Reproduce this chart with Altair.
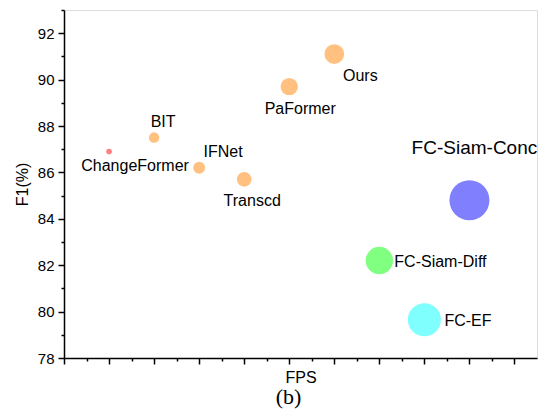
import altair as alt
import pandas as pd

names = ["ChangeFormer", "BIT", "IFNet", "Transcd", "PaFormer", "Ours",
         "FC-Siam-Diff", "FC-EF", "FC-Siam-Conc"]
fps = [1, 2, 3, 4, 5, 6, 7, 8, 9]
f1 = [86.9, 87.5, 86.2, 85.7, 89.7, 91.1, 82.2, 79.65, 84.8]
bubble = [32, 110, 140, 215, 300, 390, 750, 1100, 1600]
colors = ["#FF8080", "#FFC080", "#FFC080", "#FFC080", "#FFC080", "#FFC080",
          "#80FF80", "#80FFFF", "#8080FF"]

# label styles: name -> (dx, dy, align, fontSize)
label_style = {
    "ChangeFormer": (26, 14, "center", 16),
    "BIT": (9, -16, "center", 16),
    "IFNet": (24, -16, "center", 16),
    "Transcd": (8, 22, "center", 16),
    "PaFormer": (11, 22, "center", 16),
    "Ours": (26, 22, "center", 16),
    "FC-Siam-Diff": (15, 1, "left", 16),
    "FC-EF": (20, 1, "left", 16),
    "FC-Siam-Conc": (5, -52, "center", 19),
}

df = pd.DataFrame({"name": names, "fps": fps, "f1": f1, "size": bubble, "color": colors})

FONT = "Liberation Sans"
xscale = alt.Scale(domain=[0, 10.5], nice=False, zero=False)
yscale = alt.Scale(domain=[78, 93], nice=False, zero=False)

x_major = alt.Axis(orient="bottom", values=list(range(0, 11)), labels=False, tickSize=6,
                   grid=False, title="FPS", titleFont=FONT, titleFontSize=16,
                   titleFontWeight="normal", titleColor="black", titlePadding=5,
                   domainColor="black", tickColor="black", domainWidth=1.5, tickWidth=1.5)
x_minor = alt.Axis(orient="bottom", values=[i + 0.5 for i in range(0, 10)], labels=False,
                   tickSize=3, grid=False, title=None, domain=False,
                   tickColor="black", tickWidth=1.5)
y_major = alt.Axis(orient="left", values=list(range(78, 93, 2)), tickSize=6, grid=False,
                   labelFont=FONT, labelFontSize=15, labelColor="black", labelPadding=4,
                   title="F1(%)", titleFont=FONT, titleFontSize=16, titleFontWeight="normal",
                   titleColor="black", titlePadding=7,
                   domainColor="black", tickColor="black", domainWidth=1.5, tickWidth=1.5)
y_minor = alt.Axis(orient="left", values=list(range(79, 94, 2)), labels=False, tickSize=3,
                   grid=False, title=None, domain=False, tickColor="black", tickWidth=1.5)

base = alt.Chart(df)

points = base.mark_circle(opacity=1).encode(
    x=alt.X("fps:Q", scale=xscale, axis=x_major),
    y=alt.Y("f1:Q", scale=yscale, axis=y_major),
    size=alt.Size("size:Q", scale=None, legend=None),
    color=alt.Color("color:N", scale=None, legend=None),
)

minor = base.mark_point(opacity=0).encode(
    x=alt.X("fps:Q", scale=xscale, axis=x_minor),
    y=alt.Y("f1:Q", scale=yscale, axis=y_minor),
)

layers = [points, minor]
for n in names:
    dx, dy, align, fs = label_style[n]
    layers.append(
        alt.Chart(df[df["name"] == n]).mark_text(
            dx=dx, dy=dy, align=align, baseline="middle", font=FONT, fontSize=fs, color="black"
        ).encode(
            x=alt.X("fps:Q", scale=xscale, axis=None),
            y=alt.Y("f1:Q", scale=yscale, axis=None),
            text="name:N",
        )
    )

chart = alt.layer(*layers).resolve_axis(x="independent", y="independent").properties(
    width=473,
    height=348,
    autosize=alt.AutoSizeParams(type="none"),
    padding={"left": 56, "top": 2, "right": 1, "bottom": 53},
    title=alt.TitleParams(text="(b)", orient="bottom", font="Liberation Serif", fontSize=22,
                          fontWeight="normal", color="black", offset=1, dx=-12, anchor="middle"),
).configure_view(stroke=None).configure(background="white")

chart.save("out.html", embed_options={"renderer": "svg", "actions": False})
